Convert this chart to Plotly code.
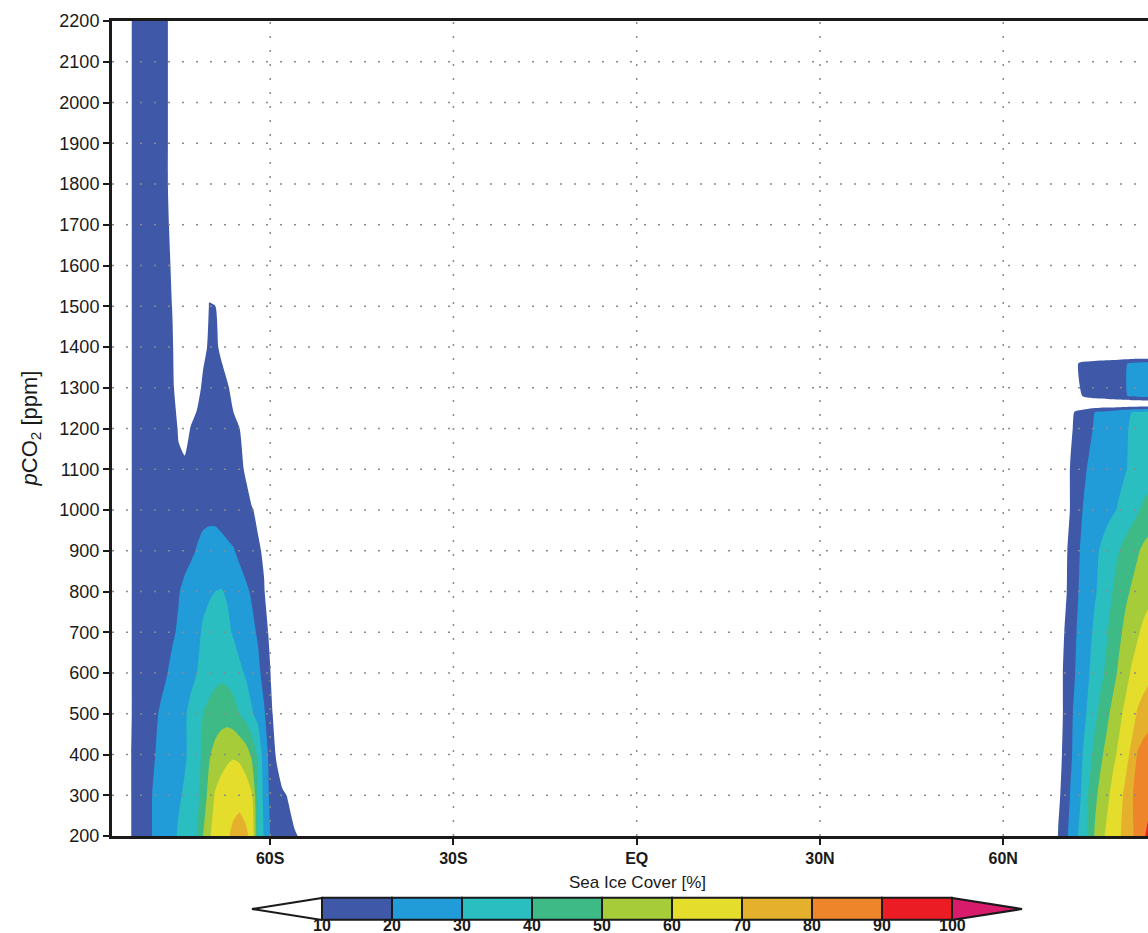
import plotly.graph_objects as go

# ---------------- data ----------------
# Southern hemisphere: latitude columns (deg) and pCO2 rows (ppm)
lat_sh = [-84, -83, -82, -81, -80, -79, -78, -77, -76, -75, -74, -73, -72, -71, -70, -69,
          -68, -67, -66, -65, -64, -63, -62, -61, -60, -59, -58, -57, -56, -55, -54, -53]
pco2_sh = [200, 300, 400, 500, 600, 700, 800, 900, 1000, 1100, 1200,
           1300, 1400, 1500, 1600, 1700, 1800, 1900, 2000, 2100, 2200]
ice_sh = [
    [0, 9, 13, 15, 18, 21, 23, 25, 28, 31, 34, 37, 40, 50, 59, 63, 66, 69, 72, 74, 72, 67, 40, 29, 20, 18, 16, 14, 12, 8, 0, 0],
    [0, 9, 13, 15, 18, 21, 23, 25, 27, 29, 31, 34, 37, 45, 53, 61, 64, 66, 67, 67, 65, 61, 40, 27, 18, 15, 12, 9, 0, 0, 0, 0],
    [0, 9, 13, 15, 17, 19.5, 22, 24, 26, 27, 29, 32, 36, 42, 49, 53, 56, 58, 59, 58, 55, 48, 38, 25, 17, 9, 0, 0, 0, 0, 0, 0],
    [0, 9, 12, 14, 16, 18, 21, 23, 25, 27, 29, 32, 36, 40, 43, 45, 46, 46, 44, 40, 36, 31, 27, 21, 14, 4, 0, 0, 0, 0, 0, 0],
    [0, 9, 12, 13, 14, 16, 17, 19.5, 22, 24, 26, 28, 30, 33, 35, 37, 38, 37, 35, 32, 29, 26, 22, 17, 10.5, 0, 0, 0, 0, 0, 0, 0],
    [0, 9, 12, 13, 14, 15, 16, 17, 19, 21, 24, 26, 28, 31, 33, 34, 34, 32, 29, 26, 24, 22, 19, 14, 8, 0, 0, 0, 0, 0, 0, 0],
    [0, 9, 12, 13, 14, 15, 16, 17, 18, 19.5, 22, 24, 26, 28, 29, 30, 30.5, 29, 27, 24, 21.5, 19, 15, 11, 0, 0, 0, 0, 0, 0, 0, 0],
    [0, 9, 12, 13, 13, 14, 14, 15, 15, 16, 17, 18.5, 20.5, 22, 23, 23, 22.5, 21.5, 20.5, 18, 16, 14, 12, 8, 0, 0, 0, 0, 0, 0, 0, 0],
    [0, 9, 12, 13, 13, 13, 13, 13, 14, 14, 15, 16, 17, 18, 18, 18, 17, 16, 15, 14, 13, 11, 7, 0, 0, 0, 0, 0, 0, 0, 0, 0],
    [0, 9, 12, 13, 13, 13, 13, 13, 13, 11, 12, 13, 13, 13, 13, 13, 13, 13, 13, 12, 9, 0, 0, 0, 0, 0, 0, 0, 0, 0, 0, 0],
    [0, 9, 12, 13, 13, 13, 13, 13, 12.5, 9.5, 6, 10.5, 12.5, 13, 13, 13, 13, 12.5, 12, 10, 5, 0, 0, 0, 0, 0, 0, 0, 0, 0, 0, 0],
    [0, 9, 12, 13, 13, 13, 13, 13, 11, 7, 3, 3, 7, 11.5, 12, 12, 12, 11, 7, 0, 0, 0, 0, 0, 0, 0, 0, 0, 0, 0, 0, 0],
    [0, 9, 12, 13, 13, 13, 13, 13, 10.5, 6, 2, 2, 4, 8, 11, 11, 9, 4, 0, 0, 0, 0, 0, 0, 0, 0, 0, 0, 0, 0, 0, 0],
    [0, 9, 12, 13, 13, 13, 13, 12.5, 9.8, 5, 1, 0, 2, 5, 10.2, 10.1, 5, 0, 0, 0, 0, 0, 0, 0, 0, 0, 0, 0, 0, 0, 0, 0],
    [0, 9, 12, 13, 13, 13, 13, 12, 9, 4, 0, 0, 1, 4, 8, 4, 0, 0, 0, 0, 0, 0, 0, 0, 0, 0, 0, 0, 0, 0, 0, 0],
    [0, 9, 12, 13, 13, 13, 12.5, 11.5, 8, 3, 0, 0, 0, 0, 0, 0, 0, 0, 0, 0, 0, 0, 0, 0, 0, 0, 0, 0, 0, 0, 0, 0],
    [0, 9, 12, 13, 13, 13, 12.5, 11, 7, 2, 0, 0, 0, 0, 0, 0, 0, 0, 0, 0, 0, 0, 0, 0, 0, 0, 0, 0, 0, 0, 0, 0],
    [0, 9, 12, 13, 13, 13, 12.5, 11, 7, 2, 0, 0, 0, 0, 0, 0, 0, 0, 0, 0, 0, 0, 0, 0, 0, 0, 0, 0, 0, 0, 0, 0],
    [0, 9, 12, 13, 13, 13, 12.5, 11, 7, 2, 0, 0, 0, 0, 0, 0, 0, 0, 0, 0, 0, 0, 0, 0, 0, 0, 0, 0, 0, 0, 0, 0],
    [0, 9, 12, 13, 13, 13, 12.5, 11, 7, 2, 0, 0, 0, 0, 0, 0, 0, 0, 0, 0, 0, 0, 0, 0, 0, 0, 0, 0, 0, 0, 0, 0],
    [0, 9, 12, 13, 13, 13, 12.5, 11, 7, 2, 0, 0, 0, 0, 0, 0, 0, 0, 0, 0, 0, 0, 0, 0, 0, 0, 0, 0, 0, 0, 0, 0],
]

# Northern hemisphere
lat_nh = [67, 68, 69, 70, 71, 72, 73, 74, 75, 76, 77, 78, 79, 80, 81, 82, 83, 84, 85]
pco2_nh = [200, 300, 400, 500, 600, 700, 800, 900, 1000, 1100, 1200, 1240, 1260, 1280, 1360, 1380]
ice_nh = [
    [0, 0, 10.5, 16, 23, 28.5, 35, 42, 51, 57, 62, 66, 69, 73, 78, 84, 89, 93, 96],
    [0, 0, 8, 14, 20.5, 25, 32, 41, 48, 53, 58, 63, 67, 72, 79, 83, 86, 88, 90],
    [0, 0, 6, 12.5, 18.5, 24, 30, 36, 43, 48.5, 53, 58, 62, 67, 72, 81, 84, 86, 88],
    [0, 0, 5, 11.5, 18, 23, 27, 32, 38, 43, 48, 53, 58, 62, 66, 71, 74, 76, 78],
    [0, 0, 5, 11.5, 16.5, 21, 25, 29.5, 34, 38, 42, 47, 52, 57, 61, 64, 66, 68, 69],
    [0, 0, 4, 10, 15, 20, 24, 27.5, 32, 36, 39.5, 44, 48, 52.5, 56, 59, 62, 64, 65],
    [0, 0, 2, 8, 13, 18.5, 23, 26, 29, 32.5, 36, 40.5, 44, 48, 51, 54, 56, 58, 59],
    [0, 0, 0, 7, 13, 17.5, 22, 25, 28, 31, 34, 37, 40, 43.5, 46, 49, 52, 54, 55],
    [0, 0, 0, 5, 10.5, 15, 20, 22, 24, 26, 27.5, 29, 31, 33.5, 36, 39, 42, 44, 45],
    [0, 0, 0, 5, 10.5, 14, 18, 21, 22.5, 24, 25.5, 27, 28, 29.5, 31.5, 33, 34, 35, 36],
    [0, 0, 0, 2, 8.5, 12.5, 15, 18, 21, 22.5, 24, 25.5, 27, 29, 31, 32, 33, 34, 35],
    [0, 0, 0, 0, 7, 12, 14, 17, 20, 22, 23, 24.5, 26, 28, 30, 31, 32, 33, 34],
    [0, 0, 0, 0, 0, 0, 0, 0, 0, 0, 0, 0, 0, 0, 0, 0, 0, 0, 0],
    [0, 0, 0, 0, 0, 4, 10.5, 13, 14, 15, 16, 17, 18, 19.5, 21, 22, 23, 23, 23],
    [0, 0, 0, 0, 3, 9, 12.5, 13, 14, 15, 16, 17, 18, 19.5, 21, 22, 23, 23, 23],
    [0, 0, 0, 0, 0, 0, 0, 0, 0, 0, 0, 0, 0, 0, 0, 0, 0, 0, 0],
]

# contour levels and colours
levels = [10, 20, 30, 40, 50, 60, 70, 80, 90, 100]
level_colors = ["#3f58a8", "#229cd9", "#2bbec0", "#3eba86", "#a7cc3a",
                "#e4dd2c", "#e5b02b", "#ee852a", "#ec1c24"]
over_color = "#d91b6b"
under_color = "rgba(255,255,255,0)"

# axis ticks
x_tickvals = [-60, -30, 0, 30, 60]
x_ticktext = ["60S", "30S", "EQ", "30N", "60N"]
y_tickvals = [200, 300, 400, 500, 600, 700, 800, 900, 1000, 1100, 1200, 1300,
              1400, 1500, 1600, 1700, 1800, 1900, 2000, 2100, 2200]
x_range = [-85.9, 83.7]
y_range = [200, 2200]

# ---------------- figure ----------------
FONT = "Liberation Sans, Arial, sans-serif"
INK = "#1a1a1a"

band_colors = [under_color] + level_colors + [over_color]
nb = len(band_colors)
colorscale = []
for i, c in enumerate(band_colors):
    lo = max(0.0, (i - 0.5) / (nb - 1))
    hi = min(1.0, (i + 0.5) / (nb - 1))
    colorscale.append([lo, c])
    colorscale.append([hi, c])

contour_common = dict(
    contours=dict(start=levels[0], end=levels[-1], size=levels[1] - levels[0],
                  coloring="fill", showlines=False),
    autocontour=False,
    colorscale=colorscale,
    showscale=False,
    line=dict(width=0, smoothing=0.6),
    hoverinfo="skip",
)

fig = go.Figure()
fig.add_trace(go.Contour(x=lat_sh, y=pco2_sh, z=ice_sh, **contour_common))
fig.add_trace(go.Contour(x=lat_nh, y=pco2_nh, z=ice_nh, **contour_common))

# ---- horizontal colorbar with triangular end arrows (on its own axes) ----
bin_centers = [(a + b) / 2 for a, b in zip(levels[:-1], levels[1:])]
bin_width = levels[1] - levels[0]
fig.add_trace(go.Bar(x=bin_centers, y=[1] * len(bin_centers), width=bin_width,
                     marker=dict(color=level_colors, line=dict(color=INK, width=2)),
                     xaxis="x2", yaxis="y2", showlegend=False, hoverinfo="skip"))
lo_tip = levels[0] - bin_width
hi_tip = levels[-1] + bin_width
fig.add_trace(go.Scatter(x=[levels[0], lo_tip, levels[0], levels[0]], y=[0, 0.5, 1, 0],
                         mode="lines", fill="toself", fillcolor="white",
                         line=dict(color=INK, width=2), xaxis="x2", yaxis="y2",
                         showlegend=False, hoverinfo="skip"))
fig.add_trace(go.Scatter(x=[levels[-1], hi_tip, levels[-1], levels[-1]], y=[0, 0.5, 1, 0],
                         mode="lines", fill="toself", fillcolor=over_color,
                         line=dict(color=INK, width=2), xaxis="x2", yaxis="y2",
                         showlegend=False, hoverinfo="skip"))

# dotted grid drawn above the filled contours
grid_style = dict(color="#8a8a8a", width=1.5, dash="2px,12px")
for xv in x_tickvals:
    fig.add_shape(type="line", xref="x", yref="y", x0=xv, x1=xv, y0=y_range[0], y1=y_range[1],
                  line=grid_style, layer="above")
for yv in y_tickvals[1:-1]:
    fig.add_shape(type="line", xref="paper", yref="y", x0=0, x1=1, y0=yv, y1=yv,
                  line=grid_style, layer="above")

W, H = 1148, 933
ML, MR, MT, MB = 112, 0, 21, 0
plot_h = H - MT - MB
plot_w = W - ML - MR


def px_x(sx):
    return (sx - ML) / plot_w


def px_y(sy):
    return (H - MB - sy) / plot_h


y_dom_lo = px_y(836)

# colorbar placement (screen pixels)
cb_unit_px = 7.0
x2_range = [lo_tip - 1, hi_tip + 1]
x2_left_sx = 252 - cb_unit_px * 1
x2_right_sx = 1022 + cb_unit_px * 1
y2_range = [-0.1, 1.1]
cb_top_sy, cb_bot_sy = 898.0, 920.0
unit_h = cb_bot_sy - cb_top_sy
y2_top_sy = cb_top_sy - 0.1 * unit_h
y2_bot_sy = cb_bot_sy + 0.1 * unit_h

annotations = [
    dict(text="<i>p</i>CO<sub>2</sub> [ppm]", xref="paper", yref="paper",
         x=px_x(30), y=0.5 * (1 + y_dom_lo), textangle=-90,
         xanchor="center", yanchor="middle", showarrow=False,
         font=dict(size=22, family=FONT, color=INK)),
    dict(text="Sea Ice Cover [%]", xref="paper", yref="paper",
         x=px_x(637), y=px_y(882),
         xanchor="center", yanchor="middle", showarrow=False,
         font=dict(size=17, family=FONT, color=INK)),
]
for v in levels:
    annotations.append(dict(text=str(v), xref="x2", yref="paper", x=v, y=px_y(916),
                            xanchor="center", yanchor="top", showarrow=False,
                            borderpad=0,
                            font=dict(size=16, family=FONT, color=INK, weight="bold")))

fig.update_layout(
    width=W, height=H,
    margin=dict(l=ML, r=MR, t=MT, b=MB, pad=0, autoexpand=False),
    paper_bgcolor="white", plot_bgcolor="white",
    showlegend=False,
    font=dict(family=FONT, color=INK),
    xaxis=dict(range=x_range, domain=[0, 1], anchor="y", automargin=False,
               tickvals=x_tickvals, ticktext=x_ticktext,
               ticks="outside", ticklen=6, tickwidth=2, tickcolor=INK,
               tickfont=dict(size=16, family=FONT, color=INK, weight="bold"),
               showline=True, linewidth=3, linecolor=INK, mirror=True,
               showgrid=False, zeroline=False, layer="above traces"),
    yaxis=dict(range=y_range, domain=[y_dom_lo, 1], anchor="x", automargin=False,
               tickvals=y_tickvals,
               ticks="outside", ticklen=6, tickwidth=2, tickcolor=INK,
               tickfont=dict(size=18, family=FONT, color=INK),
               showline=True, linewidth=3, linecolor=INK, mirror=False,
               showgrid=False, zeroline=False, layer="above traces"),
    xaxis2=dict(range=x2_range, anchor="y2", automargin=False,
                domain=[px_x(x2_left_sx), px_x(x2_right_sx)],
                showticklabels=False, ticks="", showline=False, showgrid=False,
                zeroline=False, fixedrange=True),
    yaxis2=dict(range=y2_range, anchor="x2", automargin=False,
                domain=[px_y(y2_bot_sy), px_y(y2_top_sy)],
                visible=False, fixedrange=True),
    bargap=0,
    annotations=annotations,
)

# remove the browser's default 8px page margin so the figure fills the window exactly
fig.write_html("out.html",
               config={"displayModeBar": False},
               post_script="document.body.style.margin='0';"
                           "document.body.style.overflow='hidden';")
